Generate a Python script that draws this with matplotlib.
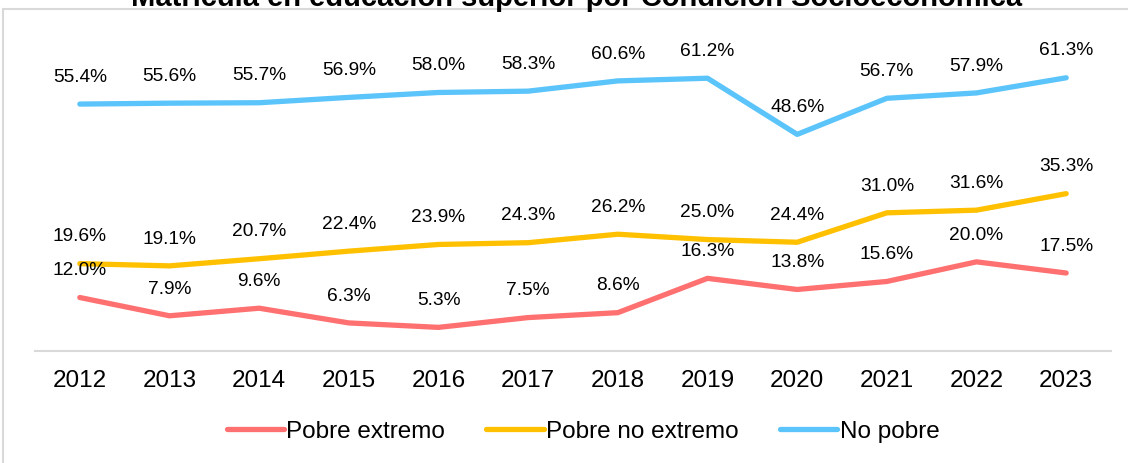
import matplotlib.pyplot as plt
from matplotlib.patches import Rectangle

plt.rcParams['font.family'] = ['Liberation Sans', 'DejaVu Sans']

# Data
years = ['2012', '2013', '2014', '2015', '2016', '2017', '2018', '2019', '2020', '2021', '2022', '2023']
pobre_extremo = [12.0, 7.9, 9.6, 6.3, 5.3, 7.5, 8.6, 16.3, 13.8, 15.6, 20.0, 17.5]
pobre_no_extremo = [19.6, 19.1, 20.7, 22.4, 23.9, 24.3, 26.2, 25.0, 24.4, 31.0, 31.6, 35.3]
no_pobre = [55.4, 55.6, 55.7, 56.9, 58.0, 58.3, 60.6, 61.2, 48.6, 56.7, 57.9, 61.3]

series = [
    ('Pobre extremo', pobre_extremo, '#FF7070'),
    ('Pobre no extremo', pobre_no_extremo, '#FFC000'),
    ('No pobre', no_pobre, '#5BC4FA'),
]

W, H = 1128, 464
fig = plt.figure(figsize=(W / 100, H / 100), dpi=100)
ax = fig.add_axes([35 / W, 112 / H, (1111 - 35) / W, 312 / H])

# light border around the chart
fig.patches.append(Rectangle((3 / W, -0.05), 1.1, 1 - 10 / H + 0.05, transform=fig.transFigure,
                             fill=False, edgecolor='#D9D9D9', linewidth=1.5))

x = list(range(len(years)))
handles = []
for name, vals, color in series:
    h, = ax.plot(x, vals, color=color, linewidth=3.8, solid_capstyle='round', label=name)
    handles.append(h)
    for xi, v in zip(x, vals):
        ax.annotate(f'{v:.1f}%', (xi, v), xytext=(0, 20), textcoords='offset points',
                    ha='center', va='center', fontsize=13.8, color='#000000')

ax.set_xlim(-0.5, len(years) - 0.5)
ax.set_ylim(0, 70)
ax.set_xticks(x)
ax.set_xticklabels(years, fontsize=17.5)
ax.tick_params(axis='x', length=0, pad=13)
ax.set_yticks([])
for side in ['top', 'right', 'left']:
    ax.spines[side].set_visible(False)
ax.spines['bottom'].set_color('#D9D9D9')
ax.spines['bottom'].set_linewidth(1.5)

fig.legend(handles=handles, loc='center', bbox_to_anchor=(583 / W, 1 - 432 / H), ncol=3,
           frameon=False, fontsize=17.5, handlelength=2.35, handletextpad=0.1, columnspacing=1.7)

fig.text(577 / W, 1 - 6 / H, 'Matrícula en educación superior por Condición Socioeconómica',
         ha='center', va='baseline', fontsize=21, fontweight='bold')

fig.savefig('out.png', dpi=100)
